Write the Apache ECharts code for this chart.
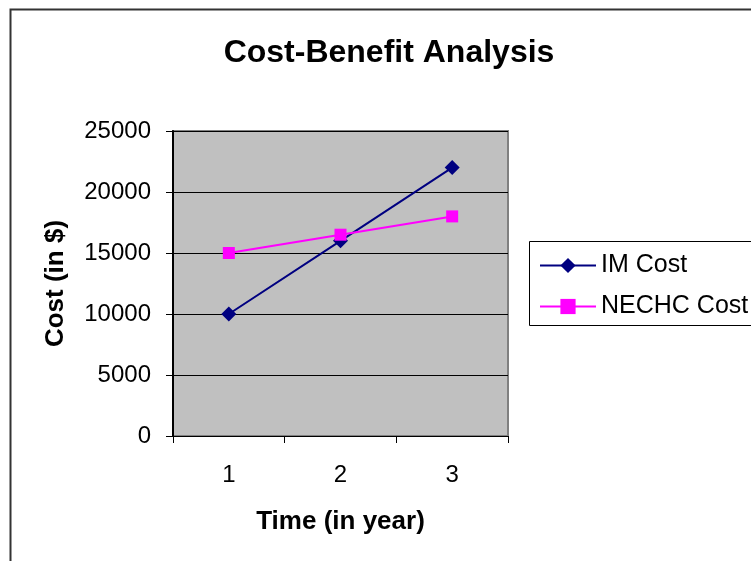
<!DOCTYPE html>
<html>
<head>
<meta charset="utf-8">
<script src="https://cdn.jsdelivr.net/npm/echarts@6/dist/echarts.min.js"></script>
<style>
  html, body { margin: 0; padding: 0; background: #fff; }
  #chart { width: 751px; height: 561px; }
</style>
</head>
<body>
<div id="chart"></div>
<script>
// Years on the horizontal axis
const years = ['1', '2', '3'];
// Yearly cost of each option, in dollars
const imCost = [10000, 16000, 22000];
const nechcCost = [15000, 16500, 18000];
const seriesNames = ['IM Cost', 'NECHC Cost'];

const FONT = '"Liberation Sans", Arial, sans-serif';

const chart = echarts.init(document.getElementById('chart'), null, { renderer: 'canvas' });

chart.setOption({
  animation: false,
  backgroundColor: '#ffffff',
  title: {
    text: 'Cost-Benefit Analysis',
    left: 384,
    top: 32,
    textAlign: 'center',
    textStyle: { fontFamily: FONT, fontSize: 32, fontWeight: 'bold', color: '#000' }
  },
  graphic: [
    {
      type: 'rect',
      shape: { x: 10.5, y: 9.5, width: 760, height: 570 },
      style: { fill: 'none', stroke: '#333', lineWidth: 2 },
      silent: true
    },
    {
      type: 'rect',
      shape: { x: 529.5, y: 241.5, width: 240, height: 84 },
      style: { fill: 'none', stroke: '#000', lineWidth: 1 },
      silent: true
    }
  ],
  legend: {
    orient: 'vertical',
    left: 534,
    top: 248,
    itemWidth: 56,
    itemHeight: 19,
    itemGap: 16,
    data: seriesNames,
    textStyle: { fontFamily: FONT, fontSize: 25, color: '#000' }
  },
  grid: {
    left: 173,
    top: 131,
    width: 335,
    height: 305,
    show: true,
    backgroundColor: '#C0C0C0',
    borderColor: '#808080',
    borderWidth: 2
  },
  xAxis: {
    type: 'category',
    data: years,
    boundaryGap: true,
    name: 'Time (in year)',
    nameLocation: 'middle',
    nameGap: 73,
    nameTextStyle: { fontFamily: FONT, fontSize: 26, fontWeight: 'bold', color: '#000' },
    axisLine: { show: true, lineStyle: { color: '#000', width: 1 } },
    axisTick: { show: true, inside: false, length: 7, lineStyle: { color: '#000' } },
    axisLabel: { margin: 27, fontFamily: FONT, fontSize: 24, color: '#000' },
    splitLine: { show: false }
  },
  yAxis: {
    type: 'value',
    min: 0,
    max: 25000,
    interval: 5000,
    name: 'Cost (in $)',
    nameLocation: 'middle',
    nameGap: 104,
    nameRotate: 90,
    nameTextStyle: { fontFamily: FONT, fontSize: 26, fontWeight: 'bold', color: '#000' },
    axisLine: { show: true, lineStyle: { color: '#000', width: 2 } },
    axisTick: { show: true, inside: false, length: 7, lineStyle: { color: '#000' } },
    axisLabel: {
      margin: 22,
      fontFamily: FONT,
      fontSize: 24,
      color: '#000',
      formatter: (v) => String(v)
    },
    splitLine: { show: true, lineStyle: { color: '#000', width: 1 } }
  },
  series: [
    {
      name: seriesNames[0],
      type: 'line',
      data: imCost,
      symbol: 'diamond',
      symbolSize: 15,
      color: '#000080',
      lineStyle: { color: '#000080', width: 2 },
      itemStyle: { color: '#000080' }
    },
    {
      name: seriesNames[1],
      type: 'line',
      data: nechcCost,
      symbol: 'rect',
      symbolSize: 12,
      color: '#FF00FF',
      lineStyle: { color: '#FF00FF', width: 2 },
      itemStyle: { color: '#FF00FF' }
    }
  ]
});
</script>
</body>
</html>
